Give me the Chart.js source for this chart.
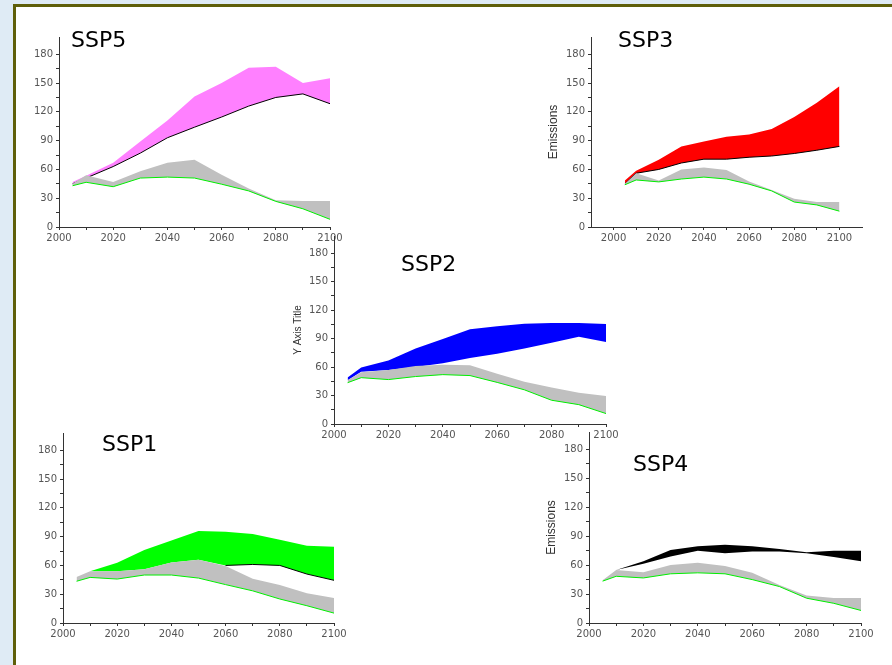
<!DOCTYPE html>
<html>
<head>
<meta charset="utf-8">
<script src="https://cdn.jsdelivr.net/npm/chart.js@4.4.1/dist/chart.umd.min.js"></script>
<style>
    body { margin: 0; background: #dfebf5; width: 892px; height: 665px; overflow: hidden; position: relative; }
    #frame { position: absolute; left: 13px; top: 4px; width: 1000px; height: 1000px; border: 3px solid #5f5f0a; background: #fff; }
    canvas { position: absolute; }
    .name { position: absolute; font-family: 'DejaVu Sans', sans-serif; font-size: 22px; line-height: 22px; color: #000; white-space: nowrap; }
</style>
</head>
<body>
<div id="frame"></div>
<script>
// years shared by all five scenario panels
const years = [2005, 2010, 2020, 2030, 2040, 2050, 2060, 2070, 2080, 2090, 2100]

// y ticks (labelled every 30, minor every 15), x ticks (labelled every 20, minor every 10)
const yMajor = [0, 30, 60, 90, 120, 150, 180]
const yMinor = [15, 45, 75, 105, 135, 165]
const xMajor = [2000, 2020, 2040, 2060, 2080, 2100]
const xMinor = [2010, 2030, 2050, 2070, 2090]

// SSP5
const ssp5Green = [43, 46.6, 42, 51, 52, 51, 44.6, 37.6, 26.7, 19, 8]
const ssp5Gray  = [45, 54, 47, 58, 67, 70, 54.5, 40, 28, 27, 27]
const ssp5Low   = [45, 51, 63, 77, 93, 104, 114.6, 126, 135, 138.7, 128.5]
const ssp5High  = [47, 53.5, 67, 89, 111, 136, 150, 166, 167, 150, 155]

// SSP3
const ssp3Green = [44, 49, 47, 50, 52, 50, 44.6, 37.6, 26, 23, 16.5]
const ssp3Gray  = [45, 56, 48.5, 60, 62, 59.5, 47.5, 38.6, 29.4, 26, 26]
const ssp3Low   = [45, 56, 60, 66.7, 70.7, 70.7, 72.7, 74, 76.6, 80, 84]
const ssp3High  = [48.5, 58.5, 70, 84, 89, 94, 96.4, 102, 114.6, 129.5, 146.6]

// SSP2
const ssp2Green = [43.5, 48.8, 46.8, 50, 52, 51, 43.8, 36, 25, 20.4, 11]
const ssp2Gray  = [46, 54.5, 57, 61, 62.5, 62, 53, 44.5, 38.5, 32.8, 29.4]
const ssp2Low   = [46, 55, 57, 60, 64, 69.6, 74, 79.6, 85.6, 92, 86.3]
const ssp2High  = [49, 59.5, 67, 79.6, 89.6, 99.7, 103, 105.7, 106.4, 106.4, 105.4]

// SSP1
const ssp1Green = [43.5, 47.5, 45.8, 50, 50, 46.8, 40, 33.5, 25, 18, 10.3]
const ssp1Gray  = [48, 54, 54, 56, 63, 66, 59.4, 46, 39.5, 31, 26]
const ssp1Low   = [null, 54, 54, 56, 63, 66, 60, 61, 60, 51, 44.5]
const ssp1High  = [null, 54, 62.8, 76, 86, 96, 95, 92.7, 86.7, 80.4, 79.4]

// SSP4
const ssp4Green = [43.4, 48.4, 46.7, 51, 52, 51, 45, 37.8, 25.7, 20.4, 13]
const ssp4Gray  = [44.4, 55, 52.6, 60, 62.5, 59, 52, 39.5, 28.6, 26, 26]
const ssp4Low   = [null, 55, 61.5, 69, 75, 72.4, 74, 74, 72.4, 68.4, 64]
const ssp4High  = [null, 55, 64, 75.6, 79.6, 81, 79.6, 76.6, 73.4, 75, 75]

const panels = [
    {name: 'SSP5', L: 59, R: 330, T: 28, B: 227, xMin: 2000, xMax: 2100, axisW: 40, yTitle: '',
     green: ssp5Green, gray: ssp5Gray, low: ssp5Low, high: ssp5High, color: '#ff80ff', lowLine: '#000', lineFrom: 2005,
     nameX: 71, nameY: 29},
    {name: 'SSP3', L: 591, R: 862, T: 28, B: 227, xMin: 1990, xMax: 2110, axisW: 45, yTitle: 'Emissions', titleSize: 12,
     green: ssp3Green, gray: ssp3Gray, low: ssp3Low, high: ssp3High, color: '#ff0000', lowLine: '#000', lineFrom: 2005,
     nameX: 618, nameY: 29},
    {name: 'SSP2', L: 334, R: 606, T: 227, B: 424, xMin: 2000, xMax: 2100, axisW: 42, yTitle: 'Y Axis Title', titleSize: 10,
     green: ssp2Green, gray: ssp2Gray, low: ssp2Low, high: ssp2High, color: '#0000ff', lowLine: null, lineFrom: 2005,
     nameX: 401, nameY: 253},
    {name: 'SSP1', L: 63, R: 334, T: 424, B: 623, xMin: 2000, xMax: 2100, axisW: 40, yTitle: '',
     green: ssp1Green, gray: ssp1Gray, low: ssp1Low, high: ssp1High, color: '#00ff00', lowLine: '#000', lineFrom: 2060,
     nameX: 102, nameY: 433},
    {name: 'SSP4', L: 589, R: 861, T: 423, B: 623, xMin: 2000, xMax: 2100, axisW: 45, yTitle: 'Emissions', titleSize: 12,
     green: ssp4Green, gray: ssp4Gray, low: ssp4Low, high: ssp4High, color: '#000000', lowLine: null, lineFrom: 2005,
     nameX: 633, nameY: 453},
]

function pts(vals) {
    let out = []
    for (let i = 0; i < years.length; i++) {
        if (vals[i] !== null) out.push({x: years[i], y: vals[i]})
    }
    return out
}

function tickList(major, minor) {
    return major.concat(minor).sort((a, b) => a - b).map(v => ({value: v}))
}

const axisColor = '#333'
const tickFont = {family: 'DejaVu Sans', size: 10}

function make_panel(p) {
    const padR = 20
    const xAxisH = 22
    const canvas = document.createElement('canvas')
    canvas.width = p.R - p.L + p.axisW + padR
    canvas.height = p.B - p.T + xAxisH
    canvas.style.left = (p.L - p.axisW) + 'px'
    canvas.style.top = p.T + 'px'
    document.body.appendChild(canvas)

    const label = document.createElement('div')
    label.className = 'name'
    label.textContent = p.name
    label.style.left = p.nameX + 'px'
    label.style.top = p.nameY + 'px'
    document.body.appendChild(label)

    // visible part of the lower edge of the coloured band
    const edge = pts(p.low).filter(pt => pt.x >= p.lineFrom)

    // datasets draw last-index first, so gray covers the coloured band and its edge
    new Chart(canvas, {
        type: 'line',
        data: {
            datasets: [
                {data: pts(p.green), borderColor: '#00ee00', borderWidth: 1, fill: false},
                {data: pts(p.gray), borderWidth: 0, borderColor: 'transparent', backgroundColor: '#c0c0c0', fill: 0},
                {data: edge, borderWidth: p.lowLine ? 1 : 0, borderColor: p.lowLine || 'transparent', fill: false},
                {data: pts(p.low), borderWidth: 0, borderColor: 'transparent', fill: false},
                {data: pts(p.high), borderWidth: 0, borderColor: 'transparent', backgroundColor: p.color, fill: 3},
            ]
        },
        options: {
            responsive: false,
            animation: false,
            layout: {padding: {left: 0, top: 0, right: padR, bottom: 0}},
            elements: {point: {radius: 0}, line: {tension: 0}},
            plugins: {legend: {display: false}, tooltip: {enabled: false}},
            scales: {
                x: {
                    type: 'linear',
                    min: p.xMin,
                    max: p.xMax,
                    afterBuildTicks: (s) => { s.ticks = tickList(xMajor, xMinor) },
                    afterFit: (s) => { s.height = xAxisH },
                    border: {display: true, color: axisColor, width: 1},
                    grid: {drawOnChartArea: false, drawTicks: true, tickLength: 3, color: axisColor},
                    ticks: {
                        autoSkip: false, maxRotation: 0, padding: 2, color: '#555', font: tickFont,
                        callback: (v) => xMajor.includes(v) ? String(v) : ''
                    }
                },
                y: {
                    min: 0,
                    max: 198,
                    afterBuildTicks: (s) => { s.ticks = tickList(yMajor, yMinor) },
                    afterFit: (s) => { s.width = p.axisW },
                    border: {display: true, color: axisColor, width: 1},
                    grid: {drawOnChartArea: false, drawTicks: true, tickLength: 3, color: axisColor},
                    title: {display: p.yTitle !== '', text: p.yTitle, color: '#333', padding: 0,
                            font: {family: 'Liberation Sans', size: p.titleSize || 12}},
                    ticks: {
                        autoSkip: false, padding: 3, color: '#555', font: tickFont,
                        callback: (v) => yMajor.includes(v) ? String(v) : ''
                    }
                }
            }
        }
    })
}

panels.forEach(make_panel)
</script>
</body>
</html>
